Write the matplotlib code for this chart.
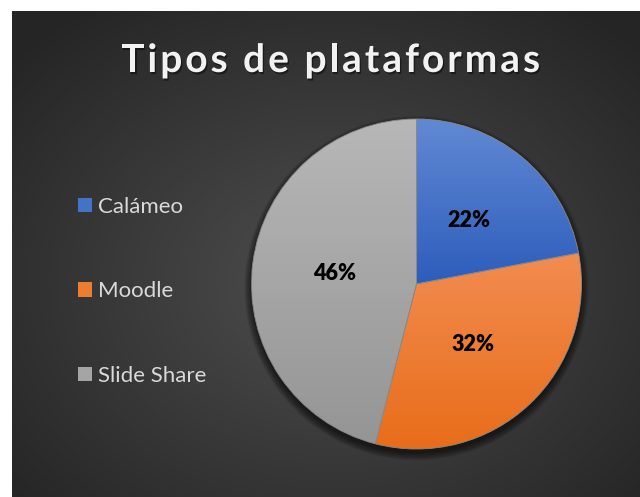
import numpy as np
import matplotlib.pyplot as plt
from matplotlib.patches import Patch, Circle
from matplotlib.colors import LinearSegmentedColormap
import matplotlib.patheffects as pe

plt.rcParams['font.family'] = ['Lato', 'DejaVu Sans']

# datos
plataformas = ['Calámeo', 'Moodle', 'Slide Share']
porcentajes = [22, 32, 46]
colores = ['#4472C4', '#ED7D31', '#A5A5A5']
# degradado de cada porcion (arriba / abajo)
color_arriba = ['#6189D3', '#F28C50', '#B7B7B7']
color_abajo = ['#2D5DBC', '#E86D1A', '#959595']
titulo = 'Tipos de plataformas'

fig = plt.figure(figsize=(6.4, 4.97), dpi=100)
fig.patch.set_facecolor('white')

# fondo gris oscuro con degradado radial
bg = fig.add_axes([12/640, 0, 628/640, 486/497])
yy, xx = np.mgrid[0:486, 0:628]
d = np.sqrt(((xx - 320) / 430.0)**2 + ((yy - 270) / 340.0)**2)
d = np.clip(d, 0, 1)
c = (0x4e + (0x25 - 0x4e) * d) / 255.0
bg.imshow(np.dstack([c, c, c]), aspect='auto', interpolation='bilinear')
bg.axis('off')

# pastel
lim = 1.1
R = 165
ax = fig.add_axes([(416.5 - R*lim)/640, 1 - (284 + R*lim)/497, 2*R*lim/640, 2*R*lim/497])
wedges, texts, autotexts = ax.pie(porcentajes, colors=colores, startangle=90, counterclock=False,
                                  autopct='%1.0f%%', pctdistance=0.5)

# sombra
for i in range(7):
    ax.add_patch(Circle((0.0, -0.025), 1.0 + i*0.007, color='black', alpha=0.1, zorder=1, lw=0))

for w, top, bot in zip(wedges, color_arriba, color_abajo):
    ext = w.get_path().get_extents()
    cmap = LinearSegmentedColormap.from_list('g', [bot, top])
    grad = np.linspace(1, 0, 100).reshape(-1, 1)
    im = ax.imshow(grad, cmap=cmap, vmin=0, vmax=1, aspect='auto', zorder=2,
                   extent=[ext.x0, ext.x1, ext.y0, ext.y1], interpolation='bilinear')
    im.set_clip_path(w)
    w.set_facecolor('none')
    w.set_edgecolor('#8a8a8a')
    w.set_linewidth(0.6)
    w.set_zorder(3)

for t in autotexts:
    t.set_fontsize(15.5)
    t.set_fontweight('heavy')
    t.set_color('black')
    t.set_zorder(4)

ax.set_xlim(-lim, lim)
ax.set_ylim(-lim, lim)
ax.set_aspect('equal')
ax.axis('off')

# leyenda
handles = [Patch(facecolor=c, edgecolor='none') for c in colores]
fig.legend(handles, plataformas, loc='upper left', bbox_to_anchor=(78/640, 1 - 197/497),
           frameon=False, fontsize=16, labelcolor='#D9D9D9', handlelength=0.63, handleheight=0.63,
           handletextpad=0.27, labelspacing=2.9, borderpad=0, borderaxespad=0)

# titulo con espaciado entre letras
fig.canvas.draw()
r = fig.canvas.get_renderer()

t = fig.text(0, 0, 'l', fontsize=28, fontweight='bold')
ancho_l = t.get_window_extent(r).width
t.remove()

def ancho(s):
    t = fig.text(0, 0, s + 'l', fontsize=28, fontweight='bold')
    w = t.get_window_extent(r).width
    t.remove()
    return w - ancho_l

x0, total = 121, 419
natural = ancho(titulo)
esp = (total - natural) / (len(titulo) - 1)
for i, ch in enumerate(titulo):
    x = x0 + ancho(titulo[:i]) + i * esp
    fig.text(x/640, 1 - 72/497, ch, fontsize=28, fontweight='bold', color='#F2F2F2',
             ha='left', va='baseline',
             path_effects=[pe.withSimplePatchShadow(offset=(1, -1.5), shadow_rgbFace='black', alpha=0.45)])

fig.savefig('out.png', dpi=100, facecolor=fig.get_facecolor())
